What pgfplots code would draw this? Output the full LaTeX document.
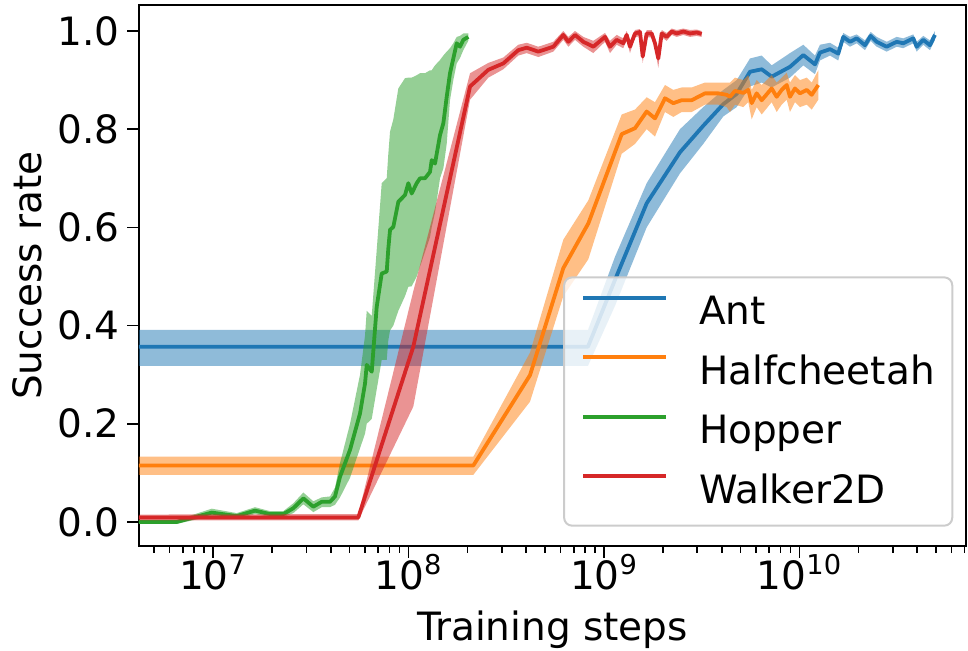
\documentclass[border=0pt]{standalone}
\usepackage{fontspec}
\setmainfont{DejaVu Sans}
\usepackage{pgfplots}
\usepackage{pgfplotstable}
\pgfplotsset{compat=1.18}
\usepgfplotslibrary{fillbetween}

\definecolor{c0}{HTML}{1F77B4}
\definecolor{c1}{HTML}{FF7F0E}
\definecolor{c2}{HTML}{2CA02C}
\definecolor{c3}{HTML}{D62728}
\newcommand\chartfont{\fontsize{19.5}{23}\selectfont}

% x y lo hi
\pgfplotstableread{
x y lo hi
4e6 0.357 0.318 0.391
8.28e8 0.357 0.318 0.391
1.138e9 0.493 0.44 0.54
1.653e9 0.649 0.60 0.69
2.447e9 0.753 0.71 0.80
3.22e9 0.807 0.77 0.845
4.076e9 0.851 0.826 0.88
4.773e9 0.872 0.845 0.90
5.582e9 0.917 0.887 0.944
6.408e9 0.922 0.895 0.950
7.208e9 0.907 0.885 0.93
8.94e9 0.927 0.905 0.955
1.046e10 0.951 0.93 0.972
1.2e10 0.932 0.912 0.95
1.273e10 0.956 0.94 0.972
1.432e10 0.963 0.95 0.976
1.579e10 0.954 0.94 0.966
1.675e10 0.988 0.978 0.996
1.813e10 0.978 0.968 0.988
1.962e10 0.985 0.975 0.993
2.163e10 0.971 0.961 0.981
2.313e10 0.990 0.98 0.998
2.483e10 0.978 0.968 0.988
2.793e10 0.968 0.958 0.978
3.142e10 0.978 0.968 0.988
3.396e10 0.975 0.965 0.985
3.82e10 0.985 0.975 0.993
3.976e10 0.968 0.958 0.978
4.297e10 0.982 0.972 0.99
4.65e10 0.971 0.961 0.981
4.933e10 0.992 0.982 1.0
}\ant

\pgfplotstableread{
x y lo hi
4e6 0.115 0.096 0.133
2.146e8 0.115 0.096 0.133
4.183e8 0.299 0.245 0.345
6.193e8 0.517 0.46 0.575
8.312e8 0.608 0.535 0.655
1.232e9 0.790 0.75 0.83
1.441e9 0.802 0.77 0.84
1.653e9 0.836 0.80 0.865
1.823e9 0.822 0.785 0.855
2.051e9 0.863 0.835 0.89
2.262e9 0.853 0.825 0.88
2.497e9 0.859 0.835 0.885
2.809e9 0.859 0.835 0.885
3.286e9 0.873 0.85 0.895
3.843e9 0.873 0.85 0.895
4.243e9 0.870 0.845 0.895
4.411e9 0.866 0.835 0.895
4.678e9 0.878 0.85 0.905
5.158e9 0.874 0.845 0.90
5.472e9 0.880 0.855 0.91
5.695e9 0.853 0.82 0.88
6.040e9 0.873 0.845 0.90
6.408e9 0.859 0.83 0.89
7.208e9 0.883 0.855 0.91
7.645e9 0.866 0.835 0.895
8.109e9 0.880 0.85 0.905
8.602e9 0.890 0.86 0.915
8.94e9 0.866 0.835 0.895
9.48e9 0.883 0.855 0.91
1.006e10 0.873 0.845 0.90
1.089e10 0.880 0.85 0.905
1.155e10 0.870 0.84 0.895
1.248e10 0.890 0.86 0.92
}\halfcheetah

\pgfplotstableread{
x y lo hi
4e6 0.000 -0.004 0.004
6.52e6 0.000 -0.004 0.004
9.85e6 0.019 0.012 0.027
1.322e7 0.012 0.006 0.018
1.640e7 0.023 0.016 0.030
1.957e7 0.016 0.010 0.022
2.289e7 0.016 0.010 0.022
2.575e7 0.028 0.018 0.038
2.897e7 0.048 0.036 0.060
3.258e7 0.031 0.020 0.042
3.597e7 0.041 0.030 0.050
3.967e7 0.041 0.030 0.052
4.207e7 0.052 0.035 0.070
4.462e7 0.092 0.050 0.120
5.021e7 0.147 0.090 0.200
5.648e7 0.221 0.150 0.300
5.991e7 0.282 0.180 0.380
6.112e7 0.320 0.200 0.430
6.483e7 0.306 0.210 0.420
6.875e7 0.438 0.270 0.554
7.292e7 0.506 0.330 0.690
7.736e7 0.510 0.330 0.700
7.883e7 0.557 0.370 0.750
8.043e7 0.595 0.390 0.795
8.361e7 0.601 0.400 0.820
8.867e7 0.652 0.430 0.883
9.596e7 0.666 0.460 0.904
9.977e7 0.690 0.479 0.905
1.038e8 0.669 0.480 0.905
1.101e8 0.690 0.500 0.910
1.145e8 0.700 0.520 0.914
1.214e8 0.700 0.550 0.914
1.288e8 0.713 0.580 0.920
1.314e8 0.737 0.600 0.920
1.366e8 0.730 0.630 0.930
1.449e8 0.788 0.700 0.941
1.507e8 0.812 0.720 0.950
1.568e8 0.866 0.770 0.958
1.630e8 0.914 0.859 0.965
1.695e8 0.944 0.900 0.975
1.764e8 0.975 0.934 0.988
1.834e8 0.968 0.945 0.990
1.907e8 0.982 0.961 0.995
2.022e8 0.988 0.980 0.995
}\hopper

\pgfplotstableread{
x y lo hi
4e6 0.009 0.003 0.015
5.534e7 0.009 0.003 0.016
1.058e8 0.357 0.235 0.47
2.064e8 0.887 0.86 0.914
2.560e8 0.921 0.905 0.935
3.054e8 0.934 0.922 0.946
3.644e8 0.961 0.95 0.972
4.024e8 0.966 0.955 0.976
4.613e8 0.958 0.947 0.968
5.505e8 0.968 0.958 0.978
6.193e8 0.992 0.982 1.0
6.570e8 0.978 0.968 0.988
7.108e8 0.992 0.982 1.0
7.838e8 0.978 0.968 0.988
8.815e8 0.968 0.955 0.98
1.012e9 0.988 0.978 0.996
1.073e9 0.968 0.955 0.98
1.161e9 0.982 0.972 0.992
1.255e9 0.975 0.965 0.985
1.306e9 0.992 0.982 1.0
1.358e9 0.968 0.955 0.98
1.441e9 0.995 0.987 1.002
1.528e9 0.998 0.99 1.004
1.578e9 0.948 0.935 0.96
1.653e9 0.995 0.987 1.002
1.754e9 0.995 0.987 1.002
1.823e9 0.975 0.965 0.985
1.896e9 0.944 0.925 0.96
1.973e9 0.995 0.987 1.002
2.093e9 0.988 0.98 0.996
2.220e9 0.999 0.992 1.005
2.354e9 0.995 0.988 1.002
2.545e9 0.999 0.992 1.005
2.754e9 0.995 0.988 1.002
2.980e9 0.997 0.99 1.003
3.160e9 0.994 0.988 1.0
}\walker

\begin{document}
\begin{tikzpicture}
\begin{axis}[
    at={(0,0)}, anchor=south west,
    scale only axis, width=413.5pt, height=270.5pt,
    xmode=log,
    xmin=4.18e6, xmax=7.11e10, ymin=-0.049, ymax=1.053,
    xtick={1e7,1e8,1e9,1e10},
    xticklabels={10\textsuperscript{7},10\textsuperscript{8},10\textsuperscript{9},10\textsuperscript{10}},
    minor xtick={5e6,6e6,7e6,8e6,9e6,2e7,3e7,4e7,5e7,6e7,7e7,8e7,9e7,2e8,3e8,4e8,5e8,6e8,7e8,8e8,9e8,2e9,3e9,4e9,5e9,6e9,7e9,8e9,9e9,2e10,3e10,4e10,5e10,6e10,7e10},
    ytick={0,0.2,0.4,0.6,0.8,1.0},
    yticklabels={0.0,0.2,0.4,0.6,0.8,1.0},
    tick align=outside, xtick pos=bottom, ytick pos=left,
    major tick length=6pt, minor tick length=3.5pt,
    every tick/.append style={black, line width=0.8pt},
    axis line style={line width=1pt},
    tick label style={font=\chartfont},
    xticklabel style={anchor=base, yshift=-16pt},
    yticklabel style={anchor=east, inner sep=0pt, xshift=-3.5pt},
    xlabel={Training steps}, ylabel={Success rate},
    every axis x label/.style={at={(axis description cs:0.5,-0.1738)}, anchor=base, font=\chartfont},
    every axis y label/.style={at={(axis description cs:-0.1348,0.5)}, rotate=90, anchor=center, font=\chartfont},
    legend cell align=left,
    legend image code/.code={\draw[#1, line width=1.9pt] (0pt,7.5pt) -- (41.5pt,7.5pt);},
    legend style={at={(0.9846,0.0357)}, anchor=south east,
        draw=black!20, line width=1pt, rounded corners=4pt,
        fill=white, fill opacity=0.8, text opacity=1, draw opacity=1,
        font=\chartfont,
        inner xsep=8.7pt, inner ysep=9.3pt, row sep=13.25pt, column sep=15.35pt,
        nodes={inner sep=0pt, text height=14pt, text depth=2pt}},
    fill between/on layer=main,
]
% Ant
\addplot[name path=aU, draw=none, forget plot] table[x=x, y=hi] {\ant};
\addplot[name path=aL, draw=none, forget plot] table[x=x, y=lo] {\ant};
\addplot[fill=c0, fill opacity=0.5, draw=none, forget plot] fill between[of=aU and aL];
\addplot[c0, line width=1.9pt, line join=round] table[x=x, y=y] {\ant};
% Halfcheetah
\addplot[name path=hU, draw=none, forget plot] table[x=x, y=hi] {\halfcheetah};
\addplot[name path=hL, draw=none, forget plot] table[x=x, y=lo] {\halfcheetah};
\addplot[fill=c1, fill opacity=0.5, draw=none, forget plot] fill between[of=hU and hL];
\addplot[c1, line width=1.9pt, line join=round] table[x=x, y=y] {\halfcheetah};
% Hopper
\addplot[name path=pU, draw=none, forget plot] table[x=x, y=hi] {\hopper};
\addplot[name path=pL, draw=none, forget plot] table[x=x, y=lo] {\hopper};
\addplot[fill=c2, fill opacity=0.5, draw=none, forget plot] fill between[of=pU and pL];
\addplot[c2, line width=1.9pt, line join=round] table[x=x, y=y] {\hopper};
% Walker2D
\addplot[name path=wU, draw=none, forget plot] table[x=x, y=hi] {\walker};
\addplot[name path=wL, draw=none, forget plot] table[x=x, y=lo] {\walker};
\addplot[fill=c3, fill opacity=0.5, draw=none, forget plot] fill between[of=wU and wL];
\addplot[c3, line width=1.9pt, line join=round] table[x=x, y=y] {\walker};
\legend{Ant,Halfcheetah,Hopper,Walker2D}
\end{axis}
\pgfresetboundingbox
\useasboundingbox (-69.5pt,-52.5pt) rectangle (414.5pt,273pt);
\end{tikzpicture}
\end{document}
